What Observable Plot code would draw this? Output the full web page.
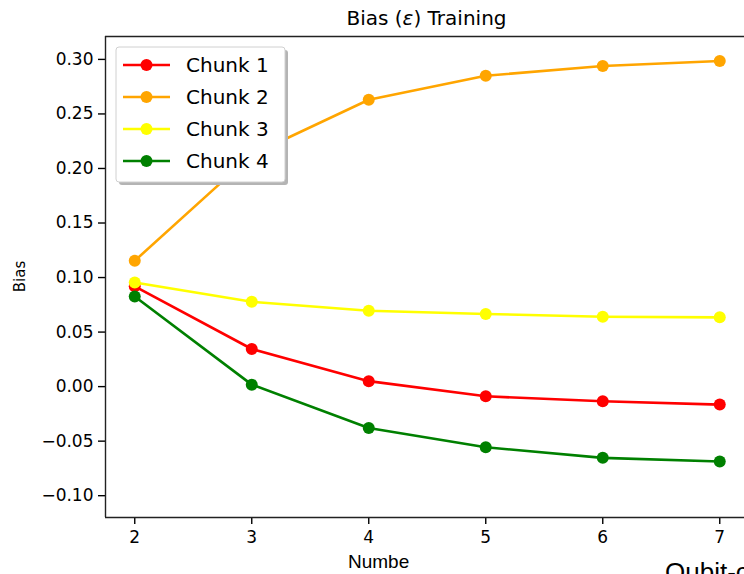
<!DOCTYPE html>
<html><head><meta charset="utf-8">
<script src="https://cdn.jsdelivr.net/npm/d3@7"></script>
<script src="https://cdn.jsdelivr.net/npm/@observablehq/plot@0.6"></script>
<style>body{margin:0;background:#fff;}</style>
</head><body><div id="chart"></div>
<script>
const qubits = [2, 3, 4, 5, 6, 7];
const chunk1 = [0.0920, 0.0345, 0.0050, -0.0089, -0.0134, -0.0165];
const chunk2 = [0.1154, 0.2125, 0.2630, 0.2850, 0.2940, 0.2985];
const chunk3 = [0.0955, 0.0778, 0.0696, 0.0666, 0.0641, 0.0635];
const chunk4 = [0.0827, 0.0018, -0.0380, -0.0556, -0.0653, -0.0687];
const seriesNames = ["Chunk 1", "Chunk 2", "Chunk 3", "Chunk 4"];
const seriesColors = ["#ff0000", "#ffa500", "#ffff00", "#008000"];
const xTicks = [2, 3, 4, 5, 6, 7];
const yTicks = [-0.10, -0.05, 0.00, 0.05, 0.10, 0.15, 0.20, 0.25, 0.30];
const titleText = "Training";
const yLabel = "Bias";
const xLabelFragment = "Numbe";
const cornerFragment = "Qubit-c";

const allSeries = [chunk1, chunk2, chunk3, chunk4];
const xDomain = [1.75, 7.2115];
const yDomain = [-0.12, 0.321];

const marks = [];
allSeries.forEach((vals, i) => {
  const rows = qubits.map((q, j) => ({q, v: vals[j]}));
  marks.push(Plot.line(rows, {x: "q", y: "v", stroke: seriesColors[i], strokeWidth: 2.6}));
  marks.push(Plot.dot(rows, {x: "q", y: "v", fill: seriesColors[i], r: 6}));
});
marks.push(Plot.ruleX([xDomain[0]], {stroke: "#222", strokeWidth: 1.4}));
marks.push(Plot.ruleY([yDomain[0]], {stroke: "#222", strokeWidth: 1.4}));
marks.push(Plot.ruleY([yDomain[1]], {stroke: "#222", strokeWidth: 1.4}));

const chart = Plot.plot({
  width: 744, height: 574,
  marginLeft: 105, marginRight: 0, marginTop: 36, marginBottom: 57,
  style: {fontFamily: "DejaVu Sans", fontSize: "17px", color: "#000", background: "#fff", overflow: "visible"},
  x: {domain: xDomain, ticks: xTicks, tickSize: 7, tickPadding: 6, label: null, tickFormat: d3.format("d")},
  y: {domain: yDomain, ticks: yTicks, tickSize: 7, tickPadding: 5, label: null, tickFormat: d3.format(".2f")},
  marks
});
document.getElementById("chart").appendChild(chart);

const svg = d3.select(chart);
svg.selectAll("g[aria-label$='axis'] path, g[aria-label$='tick'] path").attr("stroke-width", 1.4);

// Title
const t = svg.append("text").attr("x", 426.5).attr("y", 25).attr("text-anchor", "middle")
  .attr("font-family", "DejaVu Sans").attr("font-size", 20).attr("fill", "#000");
t.append("tspan").text("Bias (");
t.append("tspan").attr("font-style", "italic").text("ε");
t.append("tspan").text(") " + titleText);

// Y label
svg.append("text").attr("transform", "translate(20,276.5) rotate(-90)")
  .attr("text-anchor", "middle").attr("dominant-baseline", "central")
  .attr("font-family", "DejaVu Sans").attr("font-size", 15).attr("fill", "#000").text(yLabel);

// Fragments at bottom
svg.append("text").attr("x", 348).attr("y", 568).attr("text-anchor", "start").attr("font-family", "Liberation Sans")
  .attr("font-size", 19).attr("fill", "#000").text(xLabelFragment);
svg.append("text").attr("x", 665).attr("y", 581).attr("text-anchor", "start").attr("font-family", "Liberation Sans")
  .attr("font-size", 26).attr("fill", "#000").text(cornerFragment);

// Legend
const lg = svg.append("g");
lg.append("rect").attr("x", 119).attr("y", 50).attr("width", 169).attr("height", 135)
  .attr("rx", 3).attr("fill", "#b4b4b4");
lg.append("rect").attr("x", 116).attr("y", 47).attr("width", 169).attr("height", 135)
  .attr("rx", 3).attr("fill", "#fff").attr("stroke", "#d0d0d0");
seriesNames.forEach((name, i) => {
  const y = 65 + i * 32;
  lg.append("line").attr("x1", 123).attr("x2", 170).attr("y1", y).attr("y2", y)
    .attr("stroke", seriesColors[i]).attr("stroke-width", 2.6);
  lg.append("circle").attr("cx", 146.5).attr("cy", y).attr("r", 6).attr("fill", seriesColors[i]);
  lg.append("text").attr("x", 186).attr("y", y).attr("text-anchor", "start").attr("dominant-baseline", "central")
    .attr("font-family", "DejaVu Sans").attr("font-size", 20).attr("fill", "#000").text(name);
});
</script>
</body></html>
